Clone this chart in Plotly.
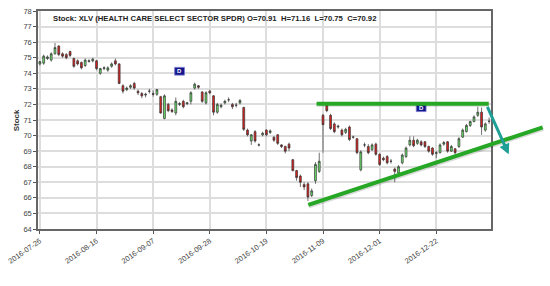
import pandas as pd
import plotly.graph_objects as go

# ---- data ----
holidays = ["2016-09-05", "2016-11-24", "2016-12-26", "2017-01-02"]
dates = [d.strftime("%Y-%m-%d") for d in pd.bdate_range("2016-07-26", "2017-01-13")
         if d.strftime("%Y-%m-%d") not in holidays]

opens = [74.6, 74.65, 74.95, 74.85, 75.25, 75.75, 75.25, 75.2, 75.4, 74.95,
         74.8, 74.7, 74.5, 74.75, 74.8, 74.8, 74.0, 74.3, 74.2, 74.45,
         74.8, 74.6, 73.2, 72.95, 73.1, 73.35, 72.85, 72.7, 72.6, 72.85,
         72.7, 72.65, 72.5, 71.1, 72.0, 71.65, 71.45, 72.0, 72.2, 72.05,
         72.2, 73.05, 73.2, 72.8, 72.1, 72.85, 72.55, 71.5, 71.85, 72.1,
         72.3, 72.0, 71.95, 72.1, 71.8, 70.35, 69.65, 70.25, 69.4, 70.05,
         70.35, 70.2, 69.9, 70.05, 69.4, 69.3, 69.45, 68.45, 67.75, 67.4,
         66.85, 66.9, 66.15, 67.1, 67.7, 71.3, 71.95, 71.3, 70.75, 70.55,
         70.35, 70.2, 70.55, 69.9, 69.8, 67.8, 69.4, 69.3, 69.1, 69.45,
         68.8, 68.55, 68.65, 68.35, 67.85, 67.6, 68.25, 68.65, 69.4, 69.7,
         69.5, 69.6, 69.6, 69.3, 69.2, 68.85, 68.9, 69.45, 69.6, 69.0,
         69.15, 69.3, 69.9, 70.25, 70.65, 70.9, 71.3, 71.5, 70.35, 70.91]
highs = [74.8, 75.2, 75.15, 75.35, 75.95, 75.8, 75.35, 75.3, 75.45, 75.0,
         74.9, 74.75, 74.95, 74.9, 75.0, 74.85, 74.35, 74.45, 74.45, 74.7,
         74.95, 74.65, 73.3, 73.15, 73.3, 73.45, 72.95, 72.8, 72.75, 73.0,
         72.9, 73.0, 72.55, 72.65, 72.1, 71.75, 72.45, 72.15, 72.3, 72.15,
         72.85, 73.4, 73.25, 72.85, 72.85, 72.95, 72.6, 72.1, 72.05, 72.3,
         72.45, 72.1, 72.1, 72.35, 71.85, 70.45, 70.1, 70.35, 69.5, 70.25,
         70.4, 70.4, 69.95, 70.1, 69.45, 69.35, 69.55, 68.5, 67.8, 67.5,
         67.0, 67.0, 66.6, 68.3, 68.9, 71.4, 72.05, 71.4, 70.85, 70.7,
         70.45, 70.5, 70.65, 70.0, 69.85, 69.05, 69.55, 69.45, 69.5, 69.55,
         68.85, 68.65, 68.75, 68.5, 67.95, 68.1, 68.85, 69.3, 69.95, 69.95,
         69.8, 69.7, 69.65, 69.35, 69.25, 69.0, 69.5, 69.65, 69.65, 69.4,
         69.2, 69.9, 70.45, 70.75, 70.95, 71.3, 71.85, 71.8, 70.85, 71.16]
lows = [74.5, 74.55, 74.85, 74.75, 75.2, 75.1, 75.0, 74.9, 75.05, 74.35,
        74.5, 74.25, 74.4, 74.7, 74.7, 74.2, 73.9, 74.2, 74.1, 74.35,
        74.5, 73.3, 72.7, 72.85, 73.0, 72.95, 72.6, 72.4, 72.45, 72.7,
        72.5, 72.55, 71.4, 71.05, 71.5, 71.45, 71.3, 71.9, 71.75, 71.95,
        72.0, 72.95, 73.0, 72.1, 72.0, 72.65, 71.3, 71.4, 71.75, 72.0,
        72.15, 71.7, 71.8, 72.0, 70.3, 69.95, 69.4, 69.55, 69.3, 69.95,
        69.95, 70.1, 69.6, 69.4, 69.2, 68.85, 69.0, 67.7, 67.1, 66.7,
        66.5, 65.8, 66.05, 66.9, 67.6, 68.9, 71.5, 70.35, 70.15, 70.45,
        69.95, 70.1, 69.65, 69.8, 68.8, 67.7, 69.25, 68.8, 69.0, 68.7,
        68.05, 68.35, 68.15, 68.2, 67.0, 67.5, 68.15, 68.55, 69.3, 69.25,
        69.4, 69.3, 69.2, 68.9, 68.7, 68.55, 68.85, 69.35, 68.9, 68.95,
        68.8, 69.2, 69.85, 70.2, 70.55, 70.85, 71.2, 70.05, 70.25, 70.75]
closes = [74.75, 75.1, 75.05, 75.25, 75.65, 75.2, 75.1, 75.0, 75.15, 74.45,
          74.6, 74.35, 74.85, 74.8, 74.9, 74.3, 74.3, 74.35, 74.35, 74.6,
          74.6, 73.35, 72.85, 73.05, 73.2, 73.05, 72.75, 72.55, 72.65, 72.85,
          72.65, 72.95, 71.45, 72.55, 71.6, 71.55, 72.2, 72.05, 71.85, 72.1,
          72.75, 73.3, 73.1, 72.2, 72.75, 72.75, 71.5, 72.0, 71.95, 72.2,
          72.3, 71.85, 71.95, 72.25, 70.4, 70.05, 70.05, 69.65, 69.4, 70.15,
          70.05, 70.3, 69.7, 69.5, 69.3, 69.0, 69.2, 67.75, 67.3, 67.0,
          66.7, 66.05, 66.45, 68.15, 68.35, 70.7, 71.6, 70.45, 70.25, 70.6,
          70.05, 70.4, 69.75, 69.9, 68.9, 68.95, 69.4, 68.9, 69.4, 68.8,
          68.15, 68.45, 68.25, 68.35, 67.7, 68.0, 68.75, 69.2, 69.7, 69.35,
          69.7, 69.4, 69.3, 69.0, 68.8, 68.9, 69.4, 69.55, 69.0, 69.3,
          68.9, 69.8, 70.35, 70.65, 70.9, 71.2, 71.5, 70.55, 70.75, 70.92]

tick_dates = ["2016-07-26", "2016-08-16", "2016-09-07", "2016-09-28",
              "2016-10-19", "2016-11-09", "2016-12-01", "2016-12-22"]
y_ticks = list(range(64, 79))
dividend_dates = ["2016-09-16", "2016-12-16"]
dividend_y = [74.13, 71.79]
resistance_y = 72.05

title_text = "Stock: XLV (HEALTH CARE SELECT SECTOR SPDR) O=70.91  H=71.16  L=70.75  C=70.92"

FONT = "Liberation Sans"
GREEN = "rgb(38,168,38)"

fig = go.Figure()
fig.add_trace(go.Candlestick(
    x=dates, open=opens, high=highs, low=lows, close=closes,
    increasing=dict(fillcolor="#6be36b", line=dict(color="#333333", width=0.7)),
    decreasing=dict(fillcolor="#e0201e", line=dict(color="#333333", width=0.7)),
    whiskerwidth=0, showlegend=False, hoverinfo="skip",
))

shapes = []
annotations = []

# dividend markers
for d, v in zip(dividend_dates, dividend_y):
    i = dates.index(d)
    shapes.append(dict(type="rect", xref="x", yref="y", x0=i - 1.3, x1=i + 1.3,
                       y0=v - 0.25, y1=v + 0.25, fillcolor="#15158a",
                       line=dict(color="#7a7ad0", width=0.8), layer="above"))
    annotations.append(dict(x=i, y=v, xref="x", yref="y", text="<b>D</b>", showarrow=False,
                            font=dict(family=FONT, size=6, color="white")))

# resistance line
i0 = dates.index("2016-11-07") + 0.3
i1 = dates.index("2017-01-12") + 0.9
shapes.append(dict(type="line", xref="x", yref="y", x0=i0, x1=i1, y0=resistance_y - 0.07,
                   y1=resistance_y - 0.07, line=dict(color="rgba(0,0,0,0.15)", width=4)))
shapes.append(dict(type="line", xref="x", yref="y", x0=i0, x1=i1, y0=resistance_y,
                   y1=resistance_y, line=dict(color=GREEN, width=4)))

# rising support line (extends past plot area) in paper coordinates
L, R, T, B = 31, 59, 7, 57
W, H = 550, 286
pw, ph = W - L - R, H - T - B
def px(x):
    return (x - L) / pw
def py(y):
    return 1 - (y - T) / ph
shapes.append(dict(type="line", xref="paper", yref="paper",
                   x0=px(306), y0=py(206), x1=px(544), y1=py(127),
                   line=dict(color="rgba(0,0,0,0.15)", width=4)))
shapes.append(dict(type="line", xref="paper", yref="paper",
                   x0=px(305.5), y0=py(204.5), x1=px(543.5), y1=py(125.5),
                   line=dict(color=GREEN, width=4)))

# teal arrow
annotations.append(dict(x=px(509), y=py(153), xref="paper", yref="paper", text="",
                        showarrow=True, ax=-22, ay=-49, arrowcolor="rgb(30,160,150)",
                        arrowwidth=3, arrowhead=2, arrowsize=0.7))

# title
annotations.append(dict(x=px(44), y=py(14.5), xref="paper", yref="paper", text="<b>" + title_text + "</b>",
                        showarrow=False, xanchor="left", yanchor="middle",
                        font=dict(family=FONT, size=7.7, color="#222222")))
# y axis title
annotations.append(dict(x=px(9), y=0.5, xref="paper", yref="paper", text="<b>Stock</b>",
                        showarrow=False, textangle=-90, xanchor="center", yanchor="middle",
                        font=dict(family=FONT, size=8, color="#333333")))

fig.update_layout(
    width=W, height=H, margin=dict(l=L, r=R, t=T, b=B),
    paper_bgcolor="white", plot_bgcolor="white",
    shapes=shapes, annotations=annotations,
    font=dict(family=FONT, size=7.5, color="#444444"),
    xaxis=dict(type="category", range=[-0.5, len(dates) - 0.5],
               tickvals=tick_dates, ticktext=tick_dates, tickangle=-35,
               showgrid=True, gridcolor="#dddddd", gridwidth=1.5,
               showline=True, linecolor="#666666", linewidth=1.5, mirror=True,
               ticks="outside", ticklen=3, tickcolor="#555555",
               rangeslider=dict(visible=False),
               tickfont=dict(family=FONT, size=7.5, color="#444444")),
    yaxis=dict(range=[64, 78], tickvals=y_ticks,
               showgrid=True, gridcolor="#dddddd", gridwidth=1.5,
               showline=True, linecolor="#666666", linewidth=1.5, mirror=True,
               ticks="outside", ticklen=3, tickcolor="#555555", zeroline=False,
               tickfont=dict(family=FONT, size=7.5, color="#444444")),
)

fig.write_html("out.html")
